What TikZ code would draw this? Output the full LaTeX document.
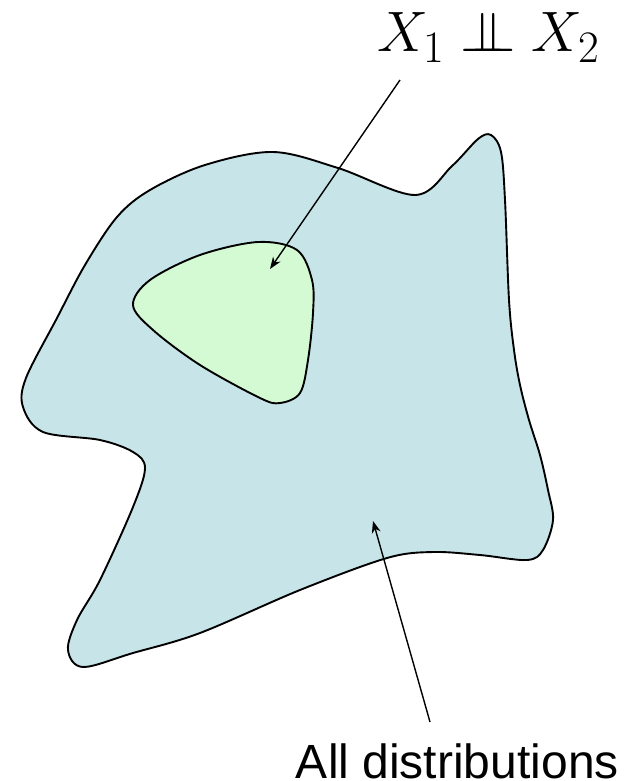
\RequirePackage{fix-cm}
\documentclass[tikz,border=0pt]{standalone}
\usepackage{fontspec}
\newfontfamily\arialfont{Liberation Sans}
\usetikzlibrary{arrows.meta}
\definecolor{outerfill}{RGB}{199,229,233}
\definecolor{innerfill}{RGB}{212,250,212}
\newcommand{\bigsub}[1]{\hbox{\fontsize{45}{48}\selectfont #1}}
\tikzset{
  blob/.style={draw=black, line width=1.9pt, line join=round},
  pointer/.style={draw=black, line width=1.4pt, -{Stealth[length=12pt,width=9pt]}},
  mathlabel/.style={inner sep=0pt, font=\fontsize{57}{60}\selectfont},
  textlabel/.style={inner sep=0pt, font=\arialfont\fontsize{48}{52}\selectfont}
}
\begin{document}
\begin{tikzpicture}[x=1pt,y=-1pt]
\useasboundingbox (0,0) rectangle (633,781);
% outer region: all distributions
\draw[blob, fill=outerfill] plot[smooth cycle, tension=0.55] coordinates {
 (273,152) (338,168) (415,195) (452,166) (478,139) (491,135) (501,152)
 (505,200) (509,300) (514,350) (520,385) (529,420) (540,455) (548,490)
 (553,520) (543,550) (527,560)
 (480,555) (433,552) (387,558) (300,590) (200,633) (133,653) (83,667)
 (68,650) (77,620) (100,580) (133,507) (145,468) (133,452) (100,440)
 (43,432) (23,407) (26,378) (57,318) (85,265) (117,217) (150,190) (205,165)};
% inner region: independent
\draw[blob, fill=innerfill] plot[smooth cycle, tension=0.55] coordinates {
 (133,305) (150,280) (200,255) (258,242) (297,250) (312,280) (313,313)
 (308,360) (300,393) (280,403) (260,398) (200,365) (153,330)};
% labels
\node[mathlabel, anchor=base west] (indep) at (377,52) {$X_{\bigsub{1}}\mathrel{\perp\mkern-10.5mu\perp}X_{\bigsub{2}}$};
\node[textlabel, anchor=base east] (alld) at (619,778) {All distributions};
% pointers
\coordinate (a1s) at (400,80);
\coordinate (a1e) at (270,269);
\coordinate (a2s) at (430,722);
\coordinate (a2e) at (373,521);
\draw[pointer] (a1s) -- (a1e);
\draw[pointer] (a2s) -- (a2e);
\end{tikzpicture}
\end{document}
